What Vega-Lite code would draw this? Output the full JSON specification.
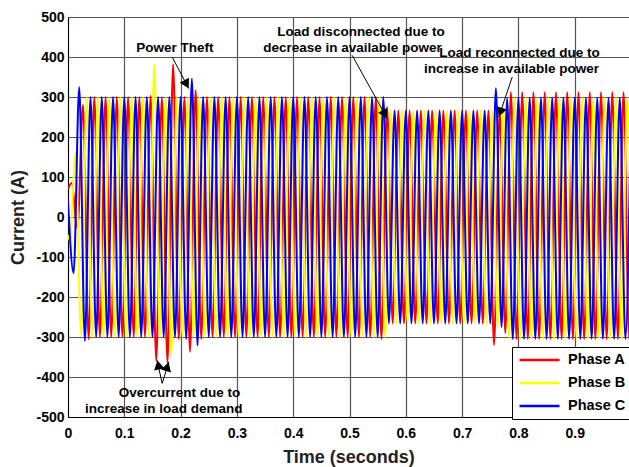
{
 "$schema": "https://vega.github.io/schema/vega-lite/v6.json",
 "width": 561,
 "height": 400,
 "autosize": {"type": "none"},
 "padding": {"left": 68, "top": 17, "right": 0, "bottom": 50},
 "background": "white",
 "config": {
  "view": {"stroke": "black", "strokeWidth": 1},
  "font": "Liberation Sans",
  "axis": {"labelFont": "Liberation Sans", "labelFontWeight": "bold", "labelFontSize": 14, "labelColor": "black", "titleFont": "Liberation Sans", "titleFontWeight": "bold", "titleFontSize": 18, "titleColor": "#222222", "grid": true, "gridColor": "#555555", "gridWidth": 1.2, "ticks": false, "domainColor": "black", "domainWidth": 1, "labelOverlap": false}
 },
 "datasets": {
  "w": [
   {"t":0,"i":70,"p":"Phase A"},{"t":0.0067,"i":85,"p":"Phase A"},{"t":0.0167,"i":-30,"p":"Phase A"},{"t":0.0267,"i":280,"p":"Phase A"},{"t":0.0367,"i":-305,"p":"Phase A"},
   {"t":0.0467,"i":300,"p":"Phase A"},{"t":0.0567,"i":-300,"p":"Phase A"},{"t":0.0667,"i":300,"p":"Phase A"},{"t":0.0767,"i":-300,"p":"Phase A"},{"t":0.0867,"i":300,"p":"Phase A"},{"t":0.0967,"i":-300,"p":"Phase A"},{"t":0.1067,"i":300,"p":"Phase A"},{"t":0.1167,"i":-300,"p":"Phase A"},{"t":0.1267,"i":300,"p":"Phase A"},{"t":0.1367,"i":-300,"p":"Phase A"},
   {"t":0.1467,"i":303,"p":"Phase A"},{"t":0.1567,"i":-360,"p":"Phase A"},{"t":0.1667,"i":300,"p":"Phase A"},{"t":0.1767,"i":-365,"p":"Phase A"},{"t":0.1867,"i":382,"p":"Phase A"},{"t":0.1967,"i":-305,"p":"Phase A"},{"t":0.2067,"i":300,"p":"Phase A"},{"t":0.2167,"i":-337,"p":"Phase A"},{"t":0.2267,"i":317,"p":"Phase A"},{"t":0.2367,"i":-305,"p":"Phase A"},
   {"t":0.2467,"i":300,"p":"Phase A"},{"t":0.2567,"i":-300,"p":"Phase A"},{"t":0.2667,"i":300,"p":"Phase A"},{"t":0.2767,"i":-300,"p":"Phase A"},{"t":0.2867,"i":300,"p":"Phase A"},{"t":0.2967,"i":-300,"p":"Phase A"},{"t":0.3067,"i":300,"p":"Phase A"},{"t":0.3167,"i":-300,"p":"Phase A"},{"t":0.3267,"i":300,"p":"Phase A"},{"t":0.3367,"i":-300,"p":"Phase A"},{"t":0.3467,"i":300,"p":"Phase A"},{"t":0.3567,"i":-300,"p":"Phase A"},{"t":0.3667,"i":300,"p":"Phase A"},{"t":0.3767,"i":-300,"p":"Phase A"},{"t":0.3867,"i":300,"p":"Phase A"},{"t":0.3967,"i":-300,"p":"Phase A"},{"t":0.4067,"i":300,"p":"Phase A"},{"t":0.4167,"i":-300,"p":"Phase A"},{"t":0.4267,"i":300,"p":"Phase A"},{"t":0.4367,"i":-300,"p":"Phase A"},{"t":0.4467,"i":300,"p":"Phase A"},{"t":0.4567,"i":-300,"p":"Phase A"},{"t":0.4667,"i":300,"p":"Phase A"},{"t":0.4767,"i":-300,"p":"Phase A"},{"t":0.4867,"i":300,"p":"Phase A"},{"t":0.4967,"i":-300,"p":"Phase A"},{"t":0.5067,"i":300,"p":"Phase A"},{"t":0.5167,"i":-300,"p":"Phase A"},{"t":0.5267,"i":300,"p":"Phase A"},{"t":0.5367,"i":-300,"p":"Phase A"},{"t":0.5467,"i":300,"p":"Phase A"},
   {"t":0.5567,"i":-305,"p":"Phase A"},{"t":0.5667,"i":275,"p":"Phase A"},{"t":0.5767,"i":-266,"p":"Phase A"},{"t":0.5867,"i":266,"p":"Phase A"},{"t":0.5967,"i":-266,"p":"Phase A"},{"t":0.6067,"i":266,"p":"Phase A"},{"t":0.6167,"i":-266,"p":"Phase A"},{"t":0.6267,"i":266,"p":"Phase A"},{"t":0.6367,"i":-266,"p":"Phase A"},{"t":0.6467,"i":266,"p":"Phase A"},{"t":0.6567,"i":-266,"p":"Phase A"},{"t":0.6667,"i":266,"p":"Phase A"},{"t":0.6767,"i":-266,"p":"Phase A"},{"t":0.6867,"i":266,"p":"Phase A"},{"t":0.6967,"i":-266,"p":"Phase A"},{"t":0.7067,"i":266,"p":"Phase A"},{"t":0.7167,"i":-266,"p":"Phase A"},{"t":0.7267,"i":266,"p":"Phase A"},{"t":0.7367,"i":-266,"p":"Phase A"},{"t":0.7467,"i":266,"p":"Phase A"},
   {"t":0.7567,"i":-320,"p":"Phase A"},{"t":0.7667,"i":265,"p":"Phase A"},{"t":0.7767,"i":-290,"p":"Phase A"},{"t":0.7867,"i":312,"p":"Phase A"},{"t":0.7967,"i":-305,"p":"Phase A"},{"t":0.8067,"i":312,"p":"Phase A"},{"t":0.8167,"i":-305,"p":"Phase A"},{"t":0.8267,"i":312,"p":"Phase A"},{"t":0.8367,"i":-305,"p":"Phase A"},{"t":0.8467,"i":312,"p":"Phase A"},{"t":0.8567,"i":-305,"p":"Phase A"},{"t":0.8667,"i":312,"p":"Phase A"},{"t":0.8767,"i":-305,"p":"Phase A"},{"t":0.8867,"i":312,"p":"Phase A"},{"t":0.8967,"i":-305,"p":"Phase A"},{"t":0.9067,"i":312,"p":"Phase A"},{"t":0.9167,"i":-305,"p":"Phase A"},{"t":0.9267,"i":312,"p":"Phase A"},{"t":0.9367,"i":-305,"p":"Phase A"},{"t":0.9467,"i":312,"p":"Phase A"},{"t":0.9567,"i":-305,"p":"Phase A"},{"t":0.9667,"i":312,"p":"Phase A"},{"t":0.9767,"i":-305,"p":"Phase A"},{"t":0.9867,"i":312,"p":"Phase A"},{"t":0.9967,"i":-305,"p":"Phase A"},{"t":1.0067,"i":312,"p":"Phase A"},

   {"t":0,"i":-45,"p":"Phase B"},{"t":0.0033,"i":-60,"p":"Phase B"},{"t":0.0133,"i":160,"p":"Phase B"},{"t":0.0233,"i":-295,"p":"Phase B"},{"t":0.0333,"i":300,"p":"Phase B"},{"t":0.0433,"i":-300,"p":"Phase B"},{"t":0.0533,"i":300,"p":"Phase B"},{"t":0.0633,"i":-300,"p":"Phase B"},{"t":0.0733,"i":300,"p":"Phase B"},{"t":0.0833,"i":-300,"p":"Phase B"},{"t":0.0933,"i":300,"p":"Phase B"},{"t":0.1033,"i":-300,"p":"Phase B"},{"t":0.1133,"i":300,"p":"Phase B"},{"t":0.1233,"i":-300,"p":"Phase B"},{"t":0.1333,"i":300,"p":"Phase B"},{"t":0.1433,"i":-300,"p":"Phase B"},{"t":0.1533,"i":382,"p":"Phase B"},{"t":0.1633,"i":-300,"p":"Phase B"},{"t":0.1733,"i":300,"p":"Phase B"},{"t":0.1833,"i":-346,"p":"Phase B"},{"t":0.1933,"i":300,"p":"Phase B"},{"t":0.2033,"i":-300,"p":"Phase B"},{"t":0.2133,"i":300,"p":"Phase B"},{"t":0.2233,"i":-300,"p":"Phase B"},{"t":0.2333,"i":300,"p":"Phase B"},{"t":0.2433,"i":-300,"p":"Phase B"},{"t":0.2533,"i":300,"p":"Phase B"},{"t":0.2633,"i":-300,"p":"Phase B"},{"t":0.2733,"i":300,"p":"Phase B"},{"t":0.2833,"i":-300,"p":"Phase B"},{"t":0.2933,"i":300,"p":"Phase B"},{"t":0.3033,"i":-300,"p":"Phase B"},{"t":0.3133,"i":300,"p":"Phase B"},{"t":0.3233,"i":-300,"p":"Phase B"},{"t":0.3333,"i":300,"p":"Phase B"},{"t":0.3433,"i":-300,"p":"Phase B"},{"t":0.3533,"i":300,"p":"Phase B"},{"t":0.3633,"i":-300,"p":"Phase B"},{"t":0.3733,"i":300,"p":"Phase B"},{"t":0.3833,"i":-300,"p":"Phase B"},{"t":0.3933,"i":300,"p":"Phase B"},{"t":0.4033,"i":-300,"p":"Phase B"},{"t":0.4133,"i":300,"p":"Phase B"},{"t":0.4233,"i":-300,"p":"Phase B"},{"t":0.4333,"i":300,"p":"Phase B"},{"t":0.4433,"i":-300,"p":"Phase B"},{"t":0.4533,"i":300,"p":"Phase B"},{"t":0.4633,"i":-300,"p":"Phase B"},{"t":0.4733,"i":300,"p":"Phase B"},{"t":0.4833,"i":-300,"p":"Phase B"},{"t":0.4933,"i":300,"p":"Phase B"},{"t":0.5033,"i":-300,"p":"Phase B"},{"t":0.5133,"i":300,"p":"Phase B"},{"t":0.5233,"i":-300,"p":"Phase B"},{"t":0.5333,"i":300,"p":"Phase B"},{"t":0.5433,"i":-300,"p":"Phase B"},{"t":0.5533,"i":300,"p":"Phase B"},{"t":0.5633,"i":-300,"p":"Phase B"},
   {"t":0.5733,"i":266,"p":"Phase B"},{"t":0.5833,"i":-266,"p":"Phase B"},{"t":0.5933,"i":266,"p":"Phase B"},{"t":0.6033,"i":-266,"p":"Phase B"},{"t":0.6133,"i":266,"p":"Phase B"},{"t":0.6233,"i":-266,"p":"Phase B"},{"t":0.6333,"i":266,"p":"Phase B"},{"t":0.6433,"i":-266,"p":"Phase B"},{"t":0.6533,"i":266,"p":"Phase B"},{"t":0.6633,"i":-266,"p":"Phase B"},{"t":0.6733,"i":266,"p":"Phase B"},{"t":0.6833,"i":-266,"p":"Phase B"},{"t":0.6933,"i":266,"p":"Phase B"},{"t":0.7033,"i":-266,"p":"Phase B"},{"t":0.7133,"i":266,"p":"Phase B"},{"t":0.7233,"i":-266,"p":"Phase B"},{"t":0.7333,"i":266,"p":"Phase B"},{"t":0.7433,"i":-266,"p":"Phase B"},{"t":0.7533,"i":266,"p":"Phase B"},{"t":0.7633,"i":-275,"p":"Phase B"},{"t":0.7733,"i":282,"p":"Phase B"},{"t":0.7833,"i":-305,"p":"Phase B"},
   {"t":0.7933,"i":298,"p":"Phase B"},{"t":0.8033,"i":-305,"p":"Phase B"},{"t":0.8133,"i":298,"p":"Phase B"},{"t":0.8233,"i":-305,"p":"Phase B"},{"t":0.8333,"i":298,"p":"Phase B"},{"t":0.8433,"i":-305,"p":"Phase B"},{"t":0.8533,"i":298,"p":"Phase B"},{"t":0.8633,"i":-305,"p":"Phase B"},{"t":0.8733,"i":298,"p":"Phase B"},{"t":0.8833,"i":-305,"p":"Phase B"},{"t":0.8933,"i":298,"p":"Phase B"},{"t":0.9033,"i":-305,"p":"Phase B"},{"t":0.9133,"i":298,"p":"Phase B"},{"t":0.9233,"i":-305,"p":"Phase B"},{"t":0.9333,"i":298,"p":"Phase B"},{"t":0.9433,"i":-305,"p":"Phase B"},{"t":0.9533,"i":298,"p":"Phase B"},{"t":0.9633,"i":-305,"p":"Phase B"},{"t":0.9733,"i":298,"p":"Phase B"},{"t":0.9833,"i":-305,"p":"Phase B"},{"t":0.9933,"i":298,"p":"Phase B"},{"t":1.0033,"i":-305,"p":"Phase B"},

   {"t":0,"i":40,"p":"Phase C"},{"t":0.01,"i":-140,"p":"Phase C"},{"t":0.02,"i":325,"p":"Phase C"},{"t":0.03,"i":-310,"p":"Phase C"},{"t":0.04,"i":300,"p":"Phase C"},{"t":0.05,"i":-300,"p":"Phase C"},{"t":0.06,"i":300,"p":"Phase C"},{"t":0.07,"i":-300,"p":"Phase C"},{"t":0.08,"i":300,"p":"Phase C"},{"t":0.09,"i":-300,"p":"Phase C"},{"t":0.1,"i":300,"p":"Phase C"},{"t":0.11,"i":-300,"p":"Phase C"},{"t":0.12,"i":300,"p":"Phase C"},{"t":0.13,"i":-300,"p":"Phase C"},{"t":0.14,"i":300,"p":"Phase C"},{"t":0.15,"i":-300,"p":"Phase C"},{"t":0.16,"i":300,"p":"Phase C"},{"t":0.17,"i":-300,"p":"Phase C"},{"t":0.18,"i":300,"p":"Phase C"},{"t":0.19,"i":-300,"p":"Phase C"},{"t":0.2,"i":300,"p":"Phase C"},{"t":0.21,"i":-305,"p":"Phase C"},{"t":0.22,"i":346,"p":"Phase C"},{"t":0.23,"i":-321,"p":"Phase C"},{"t":0.24,"i":300,"p":"Phase C"},{"t":0.25,"i":-300,"p":"Phase C"},{"t":0.26,"i":300,"p":"Phase C"},{"t":0.27,"i":-300,"p":"Phase C"},{"t":0.28,"i":300,"p":"Phase C"},{"t":0.29,"i":-300,"p":"Phase C"},{"t":0.3,"i":300,"p":"Phase C"},{"t":0.31,"i":-300,"p":"Phase C"},{"t":0.32,"i":300,"p":"Phase C"},{"t":0.33,"i":-300,"p":"Phase C"},{"t":0.34,"i":300,"p":"Phase C"},{"t":0.35,"i":-300,"p":"Phase C"},{"t":0.36,"i":300,"p":"Phase C"},{"t":0.37,"i":-300,"p":"Phase C"},{"t":0.38,"i":300,"p":"Phase C"},{"t":0.39,"i":-300,"p":"Phase C"},{"t":0.4,"i":300,"p":"Phase C"},{"t":0.41,"i":-300,"p":"Phase C"},{"t":0.42,"i":300,"p":"Phase C"},{"t":0.43,"i":-300,"p":"Phase C"},{"t":0.44,"i":300,"p":"Phase C"},{"t":0.45,"i":-300,"p":"Phase C"},{"t":0.46,"i":300,"p":"Phase C"},{"t":0.47,"i":-300,"p":"Phase C"},{"t":0.48,"i":300,"p":"Phase C"},{"t":0.49,"i":-300,"p":"Phase C"},{"t":0.5,"i":300,"p":"Phase C"},{"t":0.51,"i":-300,"p":"Phase C"},{"t":0.52,"i":300,"p":"Phase C"},{"t":0.53,"i":-300,"p":"Phase C"},{"t":0.54,"i":300,"p":"Phase C"},{"t":0.55,"i":-300,"p":"Phase C"},{"t":0.56,"i":300,"p":"Phase C"},
   {"t":0.57,"i":-266,"p":"Phase C"},{"t":0.58,"i":266,"p":"Phase C"},{"t":0.59,"i":-266,"p":"Phase C"},{"t":0.6,"i":266,"p":"Phase C"},{"t":0.61,"i":-266,"p":"Phase C"},{"t":0.62,"i":266,"p":"Phase C"},{"t":0.63,"i":-266,"p":"Phase C"},{"t":0.64,"i":266,"p":"Phase C"},{"t":0.65,"i":-266,"p":"Phase C"},{"t":0.66,"i":266,"p":"Phase C"},{"t":0.67,"i":-266,"p":"Phase C"},{"t":0.68,"i":266,"p":"Phase C"},{"t":0.69,"i":-266,"p":"Phase C"},{"t":0.7,"i":266,"p":"Phase C"},{"t":0.71,"i":-266,"p":"Phase C"},{"t":0.72,"i":266,"p":"Phase C"},{"t":0.73,"i":-266,"p":"Phase C"},{"t":0.74,"i":266,"p":"Phase C"},{"t":0.75,"i":-266,"p":"Phase C"},{"t":0.76,"i":322,"p":"Phase C"},{"t":0.77,"i":-275,"p":"Phase C"},{"t":0.78,"i":297,"p":"Phase C"},
   {"t":0.79,"i":-305,"p":"Phase C"},{"t":0.8,"i":298,"p":"Phase C"},{"t":0.81,"i":-305,"p":"Phase C"},{"t":0.82,"i":298,"p":"Phase C"},{"t":0.83,"i":-305,"p":"Phase C"},{"t":0.84,"i":298,"p":"Phase C"},{"t":0.85,"i":-305,"p":"Phase C"},{"t":0.86,"i":298,"p":"Phase C"},{"t":0.87,"i":-305,"p":"Phase C"},{"t":0.88,"i":298,"p":"Phase C"},{"t":0.89,"i":-305,"p":"Phase C"},{"t":0.9,"i":298,"p":"Phase C"},{"t":0.91,"i":-305,"p":"Phase C"},{"t":0.92,"i":298,"p":"Phase C"},{"t":0.93,"i":-305,"p":"Phase C"},{"t":0.94,"i":298,"p":"Phase C"},{"t":0.95,"i":-305,"p":"Phase C"},{"t":0.96,"i":298,"p":"Phase C"},{"t":0.97,"i":-305,"p":"Phase C"},{"t":0.98,"i":298,"p":"Phase C"},{"t":0.99,"i":-305,"p":"Phase C"},{"t":1.0,"i":298,"p":"Phase C"}
  ],
  "txt": [
   {"t":0.19,"i":422,"s":"Power Theft"},
   {"t":0.5204,"i":462,"s":"Load disconnected due to"},
   {"t":0.5053,"i":422,"s":"decrease in available power"},
   {"t":0.802,"i":411,"s":"Load reconnected due to"},
   {"t":0.7877,"i":369,"s":"increase in available power"},
   {"t":0.198,"i":-440,"s":"Overcurrent due to"},
   {"t":0.17,"i":-481,"s":"increase in load demand"}
  ],
  "arr": [
   {"id":"a","t":0.185,"i":400,"t2":0.2146,"i2":321},
   {"id":"b","t":0.5048,"i":404,"t2":0.567,"i2":246},
   {"id":"c","t":0.789,"i":350,"t2":0.765,"i2":250},
   {"id":"d","t":0.1673,"i":-416,"t2":0.158,"i2":-358},
   {"id":"e","t":0.1673,"i":-416,"t2":0.179,"i2":-362}
  ],
  "heads": [
   {"id":"a","t":0.2105,"i":332},
   {"id":"b","t":0.5627,"i":257},
   {"id":"c","t":0.768,"i":262},
   {"id":"d","t":0.1604,"i":-370},
   {"id":"e","t":0.1764,"i":-374}
  ]
 },
 "encoding": {
  "x": {"field": "t", "type": "quantitative", "scale": {"domain": [0, 0.9964], "nice": false, "zero": false},
        "axis": {"title": "Time (seconds)", "values": [0, 0.1, 0.2, 0.3, 0.4, 0.5, 0.6, 0.7, 0.8, 0.9], "format": "~g", "labelPadding": 9, "titlePadding": 8, "labelFlush": false}},
  "y": {"field": "i", "type": "quantitative", "scale": {"domain": [-500, 500], "nice": false},
        "axis": {"title": "Current (A)", "values": [-500, -400, -300, -200, -100, 0, 100, 200, 300, 400, 500], "format": "d", "labelExpr": "replace(datum.label, '\u2212', '-')", "labelPadding": 4, "titlePadding": 8, "labelOverlap": false}}
 },
 "layer": [
  {
   "data": {"name": "w"},
   "mark": {"type": "line", "interpolate": "monotone", "strokeWidth": 2, "clip": true},
   "encoding": {
    "color": {"field": "p", "type": "nominal",
              "scale": {"domain": ["Phase A", "Phase B", "Phase C"], "range": ["#ff0000", "#ffff00", "#0000ff"]},
              "legend": {"title": null, "orient": "none", "legendX": 444, "legendY": 330, "fillColor": "white", "strokeColor": "black", "padding": 6, "symbolType": "stroke", "symbolSize": 1600, "symbolStrokeWidth": 2.5, "clipHeight": 14, "rowPadding": 8, "labelFontSize": 14.5, "labelFont": "Liberation Sans", "labelFontWeight": "bold", "labelColor": "black", "labelOffset": 7}}
   }
  },
  {
   "data": {"name": "txt"},
   "mark": {"type": "text", "font": "Liberation Sans", "fontWeight": "bold", "fontSize": 13.5, "color": "black", "align": "center", "baseline": "middle"},
   "encoding": {"text": {"field": "s"}}
  },
  {
   "data": {"name": "arr"},
   "mark": {"type": "rule", "color": "black", "strokeWidth": 1},
   "encoding": {"x2": {"field": "t2"}, "y2": {"field": "i2"}}
  },
  {
   "data": {"name": "heads"},
   "transform": [{"filter": "datum.id == 'a' || datum.id == 'b'"}],
   "mark": {"type": "point", "shape": "triangle-up", "filled": true, "color": "black", "opacity": 1, "size": 110, "angle": 152},
   "encoding": {}
  },
  {
   "data": {"name": "heads"},
   "transform": [{"filter": "datum.id == 'c'"}],
   "mark": {"type": "point", "shape": "triangle-up", "filled": true, "color": "black", "opacity": 1, "size": 110, "angle": 198},
   "encoding": {}
  },
  {
   "data": {"name": "heads"},
   "transform": [{"filter": "datum.id == 'd'"}],
   "mark": {"type": "point", "shape": "triangle-up", "filled": true, "color": "black", "opacity": 1, "size": 110, "angle": 348},
   "encoding": {}
  },
  {
   "data": {"name": "heads"},
   "transform": [{"filter": "datum.id == 'e'"}],
   "mark": {"type": "point", "shape": "triangle-up", "filled": true, "color": "black", "opacity": 1, "size": 110, "angle": 17},
   "encoding": {}
  }
 ]
}
